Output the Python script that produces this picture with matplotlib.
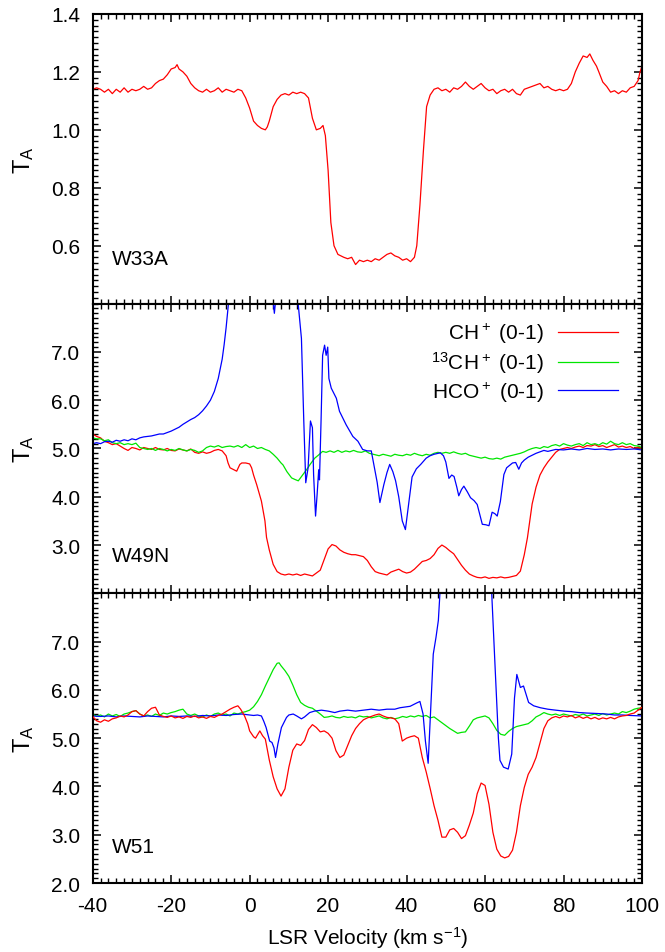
"""Three stacked absorption spectra (W33A, W49N, W51): CH+, 13CH+ and HCO+ (0-1)."""

import matplotlib

matplotlib.use("Agg")
import matplotlib.pyplot as plt  # noqa: E402
from matplotlib.ticker import FormatStrFormatter, MultipleLocator  # noqa: E402

plt.rcParams["font.family"] = ["Liberation Sans", "DejaVu Sans"]
plt.rcParams["mathtext.default"] = "regular"
plt.rcParams["axes.unicode_minus"] = False

# ---------------------------------------------------------------- data
# W33A, CH+ only
V_W33A_CH = [-40, -39, -38, -37, -36, -35, -34, -33, -32, -31, -30, -29, -28, -27, -26, -25,
             -24, -23, -22, -21, -20, -19, -18.5, -18, -17, -16, -15, -14, -13, -12, -11, -10,
             -9, -8, -7, -6, -5, -4, -3, -2, -1, 0, 1, 2, 3, 4, 4.5, 5, 6, 7, 8, 9, 10, 11, 12,
             13, 14, 15, 16, 17, 18, 18.7, 19.3, 20, 20.7, 21.5, 22.5, 24, 25, 26, 27, 28, 29,
             30, 31, 32, 33, 34, 35, 36, 37, 38, 39, 40, 41, 42, 42.6, 43.4, 44.3, 45.1, 46,
             47, 48, 49, 50, 51, 52, 53, 54, 55, 56, 57, 58, 59, 60, 61, 62, 63, 64, 65, 66,
             67, 68, 69, 70, 71, 72, 73, 74, 75, 76, 77, 78, 79, 80, 81, 82, 83, 84, 85, 86,
             86.7, 87.5, 88.4, 89, 90, 91, 92, 93, 94, 95, 96, 97, 98, 99, 99.5, 100]
T_W33A_CH = [1.14, 1.145, 1.14, 1.13, 1.14, 1.125, 1.14, 1.13, 1.145, 1.13, 1.14, 1.135, 1.14,
             1.15, 1.14, 1.145, 1.16, 1.17, 1.175, 1.19, 1.21, 1.215, 1.225, 1.21, 1.20, 1.185,
             1.16, 1.145, 1.135, 1.13, 1.14, 1.13, 1.135, 1.145, 1.13, 1.14, 1.135, 1.13, 1.14,
             1.135, 1.11, 1.075, 1.03, 1.015, 1.005, 1.0, 1.01, 1.03, 1.08, 1.105, 1.12, 1.125,
             1.12, 1.13, 1.125, 1.13, 1.125, 1.11, 1.04, 1.0, 1.005, 1.015, 0.98, 0.86, 0.68,
             0.6, 0.57, 0.56, 0.555, 0.56, 0.535, 0.55, 0.545, 0.55, 0.545, 0.555, 0.55, 0.56,
             0.57, 0.575, 0.565, 0.56, 0.55, 0.555, 0.545, 0.56, 0.6, 0.74, 0.93, 1.08, 1.12,
             1.14, 1.145, 1.135, 1.14, 1.13, 1.145, 1.14, 1.15, 1.165, 1.15, 1.14, 1.15, 1.16,
             1.145, 1.135, 1.14, 1.125, 1.135, 1.14, 1.13, 1.14, 1.125, 1.12, 1.14, 1.145,
             1.15, 1.155, 1.16, 1.145, 1.15, 1.14, 1.135, 1.14, 1.135, 1.14, 1.16, 1.2, 1.23,
             1.255, 1.25, 1.262, 1.24, 1.22, 1.2, 1.165, 1.15, 1.13, 1.135, 1.125, 1.135, 1.13,
             1.145, 1.15, 1.17, 1.2, 1.22]

# W49N
V_W49N_CH = [-40, -39, -38, -37, -36, -35, -34, -33, -32, -31, -30, -29, -28, -27, -26, -25,
             -24, -23, -22, -21, -20, -19, -18, -17, -16, -15, -14, -13, -12, -11, -10, -9,
             -8, -7, -6, -5.5, -5, -4, -3.3, -2.5, -2, -1, 0, 0.5, 1, 1.8, 3, 3.9, 4.3, 5, 6,
             7, 8, 9, 10, 11, 12, 13, 14, 15, 16, 17, 18, 19, 20, 21, 22, 23, 24, 25, 26, 27,
             28, 29, 30, 31, 32, 33, 34, 35, 36, 37, 38, 39, 40, 41, 42, 43, 44, 45, 46, 47,
             48, 49, 50, 51, 52, 53, 54, 55, 56, 57, 58, 59, 60, 61, 62, 63, 64, 65, 66, 67,
             68, 69, 70, 70.8, 72, 73, 74, 75, 76, 77, 78, 79, 80, 81, 82, 83, 84, 85, 86, 87,
             88, 89, 90, 91, 92, 93, 94, 95, 96, 97, 98, 99, 100]
T_W49N_CH = [5.3, 5.25, 5.22, 5.15, 5.12, 5.08, 5.1, 5.05, 5.0, 4.96, 5.02, 5.0, 4.97, 5.02,
             5.0, 4.98, 5.02, 4.98, 4.97, 5.0, 4.96, 4.95, 4.99, 4.97, 4.95, 4.99, 4.92, 4.9,
             4.93, 4.9, 4.92, 4.96, 4.98, 4.95, 4.85, 4.7, 4.6, 4.56, 4.53, 4.67, 4.7, 4.7,
             4.68, 4.6, 4.45, 4.25, 3.91, 3.5, 3.16, 2.9, 2.6, 2.45, 2.4, 2.38, 2.4, 2.38, 2.4,
             2.37, 2.4, 2.38, 2.36, 2.42, 2.48, 2.7, 2.92, 3.01, 2.98, 2.9, 2.85, 2.82, 2.8,
             2.8, 2.78, 2.76, 2.68, 2.55, 2.45, 2.42, 2.4, 2.38, 2.44, 2.47, 2.5, 2.45, 2.42,
             2.44, 2.5, 2.58, 2.66, 2.68, 2.72, 2.8, 2.93, 3.0, 2.95, 2.88, 2.82, 2.7, 2.58,
             2.48, 2.4, 2.36, 2.33, 2.32, 2.34, 2.31, 2.33, 2.32, 2.34, 2.32, 2.33, 2.35, 2.37,
             2.46, 2.8, 3.15, 3.85, 4.2, 4.45, 4.6, 4.72, 4.82, 4.92, 4.98, 5.0, 5.02, 5.0,
             5.03, 5.05, 5.02, 5.06, 5.05, 5.08, 5.04, 5.06, 5.02, 5.05, 5.08, 5.03, 5.05, 5.02,
             5.04, 5.0, 5.03, 5.0]

V_W49N_13CH = [-40, -39, -38, -37, -36, -35, -34, -33, -32, -31, -30, -29, -28, -27, -26, -25,
               -24, -23, -22, -21, -20, -19, -18, -17, -16, -15, -14, -13, -12, -11, -10, -9,
               -8, -7, -6, -5, -4, -3, -2, -1, 0, 1, 2, 3, 4, 5, 6, 7, 8, 8.5, 9.5, 10.7, 11.5,
               12.4, 13.5, 14.5, 15.5, 16.6, 17.5, 18.6, 19.5, 20.5, 21.5, 22.5, 23.5, 24.5,
               25.5, 26.5, 27.5, 28.5, 29.5, 30.5, 32, 33, 34, 35, 36, 37, 38, 39, 40, 41, 42,
               43, 44, 45, 46, 47, 48, 49, 50, 51, 52, 53, 54, 55, 56, 57, 58, 59, 60, 61, 62,
               63, 64, 65, 66, 67, 68, 69, 70, 71, 72, 73, 74, 75, 76, 77, 78, 79, 80, 81, 82,
               83, 84, 85, 86, 87, 88, 89, 90, 91, 92, 93, 94, 95, 96, 97, 98, 99, 100]
T_W49N_13CH = [5.22, 5.2, 5.2, 5.16, 5.18, 5.12, 5.1, 5.12, 5.08, 5.1, 5.08, 5.11, 5.02, 5.0,
               4.98, 5.0, 4.96, 5.0, 4.98, 4.95, 4.98, 4.96, 5.0, 4.97, 4.95, 4.98, 4.96, 4.92,
               4.95, 5.02, 5.05, 5.03, 5.06, 5.02, 5.04, 5.05, 5.03, 5.06, 5.02, 5.08, 5.02,
               5.05, 5.0, 5.02, 4.98, 4.95, 4.88, 4.8, 4.7, 4.66, 4.52, 4.39, 4.36, 4.33, 4.45,
               4.56, 4.68, 4.8, 4.86, 4.94, 4.92, 4.95, 4.92, 4.96, 4.92, 4.95, 4.93, 4.96, 4.93,
               4.92, 4.95, 4.9, 4.87, 4.85, 4.88, 4.86, 4.84, 4.88, 4.86, 4.85, 4.88, 4.86, 4.9,
               4.87, 4.85, 4.88, 4.86, 4.9, 4.92, 4.9, 4.92, 4.9, 4.93, 4.9, 4.88, 4.9, 4.86,
               4.84, 4.82, 4.8, 4.82, 4.79, 4.78, 4.8, 4.78, 4.82, 4.84, 4.86, 4.88, 4.9, 4.93,
               4.97, 5.0, 5.02, 5.0, 5.04, 5.02, 5.06, 5.08, 5.05, 5.1, 5.07, 5.05, 5.08, 5.1,
               5.06, 5.12, 5.08, 5.1, 5.07, 5.12, 5.09, 5.15, 5.1, 5.08, 5.12, 5.08, 5.1, 5.06,
               5.05, 5.02]

V_W49N_HCO = [-40, -39, -38, -37, -36, -35, -34, -33, -32, -31, -30, -29, -28, -27, -26, -25,
              -24, -23, -22, -21, -20, -19, -18, -17, -16, -15, -14, -13, -12, -11, -10, -9,
              -8, -7, -6.5, -6, -5.4, -5, -4, -2, 0, 4, 5.8, 6.3, 6.8, 8, 11, 12.4, 13.2, 13.8,
              14.3, 14.9, 15.5, 16.0, 16.3, 16.8, 17.2, 17.6, 17.8, 18.2, 18.6, 19.1, 19.5, 19.9,
              20.2, 20.8, 22.1, 22.9, 24.6, 26.3, 27.6, 28.8, 30, 31, 31.8, 32.5, 33.2, 34.2,
              35, 35.7, 36.5, 37.2, 38, 38.9, 39.7, 40.6, 41.4, 42.5, 43.6, 45, 46, 47, 48.6,
              49.4, 50, 50.8, 51.5, 52.1, 52.8, 53.3, 54, 54.6, 55.5, 56.3, 57.2, 58, 59.3, 60.2,
              61, 61.8, 62.5, 63.1, 63.9, 64.8, 65.5, 66.1, 67, 67.8, 68.6, 69.3, 70, 71, 72, 73,
              74, 75, 76, 77, 78, 80, 82, 84, 86, 88, 90, 92, 94, 96, 98, 100]
T_W49N_HCO = [5.1, 5.12, 5.1, 5.14, 5.15, 5.13, 5.17, 5.15, 5.18, 5.16, 5.2, 5.18, 5.22, 5.24,
              5.25, 5.26, 5.28, 5.3, 5.3, 5.33, 5.36, 5.4, 5.44, 5.5, 5.55, 5.6, 5.64, 5.7, 5.78,
              5.88, 6.0, 6.18, 6.45, 6.85, 7.15, 7.5, 8.0, 8.4, 9.0, 9.5, 9.5, 9.0, 8.2, 7.8, 8.2,
              9.0, 8.8, 7.97, 7.28, 5.57, 4.29, 4.6, 5.57, 5.43, 4.46, 3.6, 4.05, 4.56, 4.35,
              5.57, 6.93, 7.14, 6.93, 7.1, 6.45, 6.25, 6.04, 5.77, 5.49, 5.25, 5.15, 4.98, 4.95,
              4.95, 4.6, 4.3, 3.88, 4.25, 4.5, 4.67, 4.52, 4.33, 4.0, 3.5, 3.32, 3.9, 4.41, 4.58,
              4.67, 4.8, 4.85, 4.88, 4.91, 4.85, 4.72, 4.38, 4.45, 4.42, 4.2, 4.02, 4.15, 4.22,
              4.1, 3.98, 3.92, 3.84, 3.43, 3.42, 3.4, 3.68, 3.65, 3.6, 3.9, 4.46, 4.6, 4.64, 4.7,
              4.71, 4.57, 4.7, 4.76, 4.82, 4.86, 4.9, 4.93, 4.96, 4.94, 4.96, 4.98, 4.97, 4.99,
              4.97, 5.0, 4.98, 4.99, 4.97, 4.99, 4.98, 4.99, 4.97]

# W51
V_W51_CH = [-40, -39, -38, -37, -36, -35, -34, -33, -32, -31, -30, -29, -28, -27, -26, -25,
            -24, -23, -22, -21, -20, -19, -18, -17, -16, -15, -14, -13, -12, -11, -10, -9, -8,
            -7, -6, -5, -4, -3, -2.3, -1.3, -0.5, 0, 1, 1.5, 2.6, 3.3, 4, 5, 6, 7, 8, 9, 10,
            11, 12, 13, 14, 15, 16, 17, 18, 19, 20, 21, 22, 23, 24, 25, 26, 27, 28, 29, 30,
            31, 32, 33, 34, 35, 36, 37, 38, 38.9, 40, 41, 42, 43, 44, 45, 46, 47, 48, 49, 50,
            51, 52, 53, 54, 55, 56, 57, 58, 59, 60, 61, 62, 63, 64, 65, 66, 67, 68, 69, 70, 71,
            72, 73, 74, 75, 76, 77, 78, 79, 80, 81, 82, 83, 84, 85, 86, 87, 88, 89, 90, 91, 92,
            93, 94, 95, 96, 97, 98, 99, 100]
T_W51_CH = [5.45, 5.36, 5.33, 5.38, 5.35, 5.4, 5.42, 5.46, 5.44, 5.48, 5.55, 5.57, 5.5, 5.46,
            5.55, 5.62, 5.64, 5.48, 5.45, 5.43, 5.46, 5.42, 5.44, 5.41, 5.45, 5.43, 5.46, 5.42,
            5.44, 5.41, 5.45, 5.43, 5.47, 5.5, 5.55, 5.6, 5.64, 5.67, 5.6, 5.46, 5.3, 5.15,
            5.03, 5.0, 5.15, 5.05, 4.98, 4.55, 4.2, 3.95, 3.8, 3.95, 4.4, 4.75, 4.88, 4.85,
            4.95, 5.18, 5.28, 5.22, 5.13, 5.15, 5.1, 5.0, 4.74, 4.6, 4.65, 4.85, 5.05, 5.2,
            5.3, 5.38, 5.42, 5.45, 5.48, 5.5, 5.46, 5.43, 5.42, 5.4, 5.3, 4.94, 5.0, 5.03, 5.05,
            5.0, 4.6, 4.3, 3.96, 3.6, 3.3, 2.95, 2.95, 3.1, 3.13, 3.05, 2.92, 2.98, 3.2, 3.45,
            3.85, 4.07, 4.02, 3.63, 3.05, 2.7, 2.56, 2.52, 2.55, 2.68, 3.05, 3.6, 3.98, 4.25,
            4.4, 4.6, 4.9, 5.2, 5.36, 5.42, 5.45, 5.42, 5.46, 5.44, 5.47, 5.42, 5.45, 5.41,
            5.44, 5.40, 5.43, 5.39, 5.42, 5.4, 5.43, 5.4, 5.44, 5.46, 5.47, 5.5, 5.52, 5.58,
            5.64]

V_W51_13CH = [-40, -39, -38, -37, -36, -35, -34, -33, -32, -31, -30, -29, -28, -27, -26, -25,
              -24, -23, -22, -21, -20, -19, -18, -17, -16, -15, -14, -13, -12, -11, -10, -9,
              -8, -7, -6, -5, -4, -3, -2, -1, 0, 1, 2, 3, 4, 5, 6, 7, 7.5, 8, 9, 10, 11, 12,
              13, 14, 15, 16, 17, 18, 19, 20, 21, 22, 23, 24, 25, 26, 27, 28, 29, 30, 31, 32,
              33, 34, 35, 36, 37, 38, 39, 40, 41, 42, 43, 44, 45, 46, 47, 48, 49, 50, 51, 52,
              53, 54, 55, 56, 57, 58, 59, 60, 61, 62, 63, 64, 65, 66, 67, 68, 69, 70, 71, 72,
              73, 74, 75, 76, 77, 78, 79, 80, 81, 82, 83, 84, 85, 86, 87, 88, 89, 90, 91, 92,
              93, 94, 95, 96, 97, 98, 99, 100]
T_W51_13CH = [5.5, 5.45, 5.48, 5.44, 5.5, 5.46, 5.49, 5.45, 5.5, 5.52, 5.55, 5.57, 5.5, 5.46,
              5.48, 5.45, 5.5, 5.47, 5.52, 5.5, 5.53, 5.55, 5.58, 5.6, 5.5, 5.47, 5.5, 5.46,
              5.44, 5.48, 5.45, 5.5, 5.52, 5.48, 5.5, 5.46, 5.52, 5.5, 5.53, 5.55, 5.58, 5.65,
              5.76, 5.9, 6.08, 6.25, 6.42, 6.55, 6.56, 6.5, 6.4, 6.28, 6.1, 5.9, 5.74, 5.68,
              5.64, 5.62, 5.56, 5.5, 5.43, 5.44, 5.46, 5.43, 5.42, 5.45, 5.43, 5.44, 5.42, 5.46,
              5.44, 5.45, 5.42, 5.44, 5.46, 5.42, 5.4, 5.43, 5.4, 5.42, 5.45, 5.43, 5.46, 5.44,
              5.47, 5.45, 5.47, 5.42, 5.44, 5.38, 5.32, 5.26, 5.2, 5.15, 5.1, 5.12, 5.13, 5.25,
              5.38, 5.42, 5.44, 5.46, 5.42, 5.3, 5.16, 5.08, 5.06, 5.14, 5.2, 5.24, 5.26, 5.28,
              5.3, 5.36, 5.44, 5.48, 5.53, 5.5, 5.48, 5.5, 5.47, 5.5, 5.48, 5.46, 5.49, 5.47,
              5.5, 5.46, 5.48, 5.5, 5.47, 5.51, 5.48, 5.5, 5.52, 5.5, 5.55, 5.53, 5.56, 5.6,
              5.62, 5.63]

V_W51_HCO = [-40, -38, -36, -34, -32, -30, -28, -26, -24, -22, -20, -18, -16, -14, -12, -10,
             -8, -6, -4, -2, 0, 1, 2, 3, 3.6, 4.2, 5.1, 5.7, 6.2, 6.6, 7.2, 8.1, 9.4, 10, 11.1,
             12, 13.2, 14, 15.3, 16.5, 18.3, 20, 21.7, 23, 25, 27, 29, 31, 33, 35, 37, 38.3,
             40.9, 42.6, 43.4, 44.2, 44.8, 45.5, 46.4, 46.8, 47.5, 48.1, 48.5, 49.5, 52, 56, 60,
             61.2, 61.7, 62.6, 63.4, 63.8, 64.7, 65.9, 66.8, 67.5, 68.1, 69, 69.8, 71.1, 72.4,
             74.1, 76, 78, 80.2, 82, 84, 86, 88.7, 91, 93, 95, 97, 100]
T_W51_HCO = [5.46, 5.45, 5.46, 5.44, 5.46, 5.45, 5.44, 5.46, 5.45, 5.44, 5.46, 5.45, 5.46,
             5.45, 5.47, 5.46, 5.48, 5.47, 5.49, 5.5, 5.48, 5.47, 5.48, 5.46, 5.35, 5.22, 4.94,
             4.91, 4.8, 4.6, 4.88, 5.22, 5.43, 5.48, 5.5, 5.46, 5.40, 5.44, 5.53, 5.56, 5.58,
             5.56, 5.53, 5.56, 5.58, 5.56, 5.58, 5.6, 5.58, 5.6, 5.6, 5.63, 5.66, 5.73, 5.76,
             5.5, 4.94, 4.48, 6.04, 6.74, 7.09, 7.44, 8.0, 9.0, 9.5, 9.5, 9.3, 8.5, 8.0, 6.4,
             5.0, 4.54, 4.4, 4.36, 4.67, 5.83, 6.32, 6.05, 6.08, 5.74, 5.67, 5.63, 5.6, 5.58,
             5.56, 5.55, 5.53, 5.52, 5.51, 5.5, 5.48, 5.48, 5.47, 5.46]

LEGEND_LABELS = ["CH$^+$ (0-1)", "$^{13}$CH$^+$ (0-1)", "HCO$^+$ (0-1)"]
SOURCES = ["W33A", "W49N", "W51"]

RED, GREEN, BLUE = "#ff0000", "#00e600", "#0000ff"

# ---------------------------------------------------------------- figure
fig = plt.figure(figsize=(6.65, 9.53), dpi=100)
gs = fig.add_gridspec(3, 1, left=0.1394, right=0.9654, top=0.9843, bottom=0.0724, hspace=0)
axes = [fig.add_subplot(gs[i]) for i in range(3)]

ax_top, ax_mid, ax_bot = axes
ax_top.plot(V_W33A_CH, T_W33A_CH, color=RED, lw=0.9)

ax_mid.plot(V_W49N_CH, T_W49N_CH, color=RED, lw=0.9, label=LEGEND_LABELS[0])
ax_mid.plot(V_W49N_13CH, T_W49N_13CH, color=GREEN, lw=0.9, label=LEGEND_LABELS[1])
ax_mid.plot(V_W49N_HCO, T_W49N_HCO, color=BLUE, lw=0.9, label=LEGEND_LABELS[2])

ax_bot.plot(V_W51_CH, T_W51_CH, color=RED, lw=0.9, zorder=3)
ax_bot.plot(V_W51_13CH, T_W51_13CH, color=GREEN, lw=0.9, zorder=2)
ax_bot.plot(V_W51_HCO, T_W51_HCO, color=BLUE, lw=0.9, zorder=2.5)

ax_top.set_ylim(0.4, 1.4)
ax_top.set_yticks([0.6, 0.8, 1.0, 1.2, 1.4])
ax_top.yaxis.set_minor_locator(MultipleLocator(0.02))
ax_mid.set_ylim(2.0, 8.0)
ax_mid.set_yticks([3, 4, 5, 6, 7])
ax_bot.set_ylim(2.0, 8.0)
ax_bot.set_yticks([2, 3, 4, 5, 6, 7])
for ax in (ax_mid, ax_bot):
    ax.yaxis.set_minor_locator(MultipleLocator(0.1))

label_y = [0.138, 0.112, 0.107]
for ax, name, ly in zip(axes, SOURCES, label_y):
    ax.set_xlim(-40, 100)
    ax.xaxis.set_major_locator(MultipleLocator(20))
    ax.xaxis.set_minor_locator(MultipleLocator(2))
    ax.yaxis.set_major_formatter(FormatStrFormatter("%.1f"))
    ax.tick_params(which="both", direction="in", top=True, right=True,
                   labelsize=15, pad=9)
    ax.tick_params(which="major", length=6, width=1.1)
    ax.tick_params(which="minor", length=3.5, width=1.0)
    for sp in ax.spines.values():
        sp.set_linewidth(1.5)
    ax.set_ylabel("T$_A$", fontsize=17, labelpad=11)
    ax.text(0.035, ly, name, transform=ax.transAxes, fontsize=15,
            ha="left", va="baseline")
    if ax is not ax_bot:
        ax.tick_params(labelbottom=False)

ax_bot.set_xlabel("LSR Velocity (km s$^{-1}$)", fontsize=15, labelpad=7)

ax_mid.legend(loc="upper right", bbox_to_anchor=(0.982, 0.99), frameon=False,
              markerfirst=False, fontsize=15, handlelength=2.85, handletextpad=0.7,
              labelspacing=0.2, borderaxespad=0.3, borderpad=0.4)

fig.savefig("out.png", dpi=100)
